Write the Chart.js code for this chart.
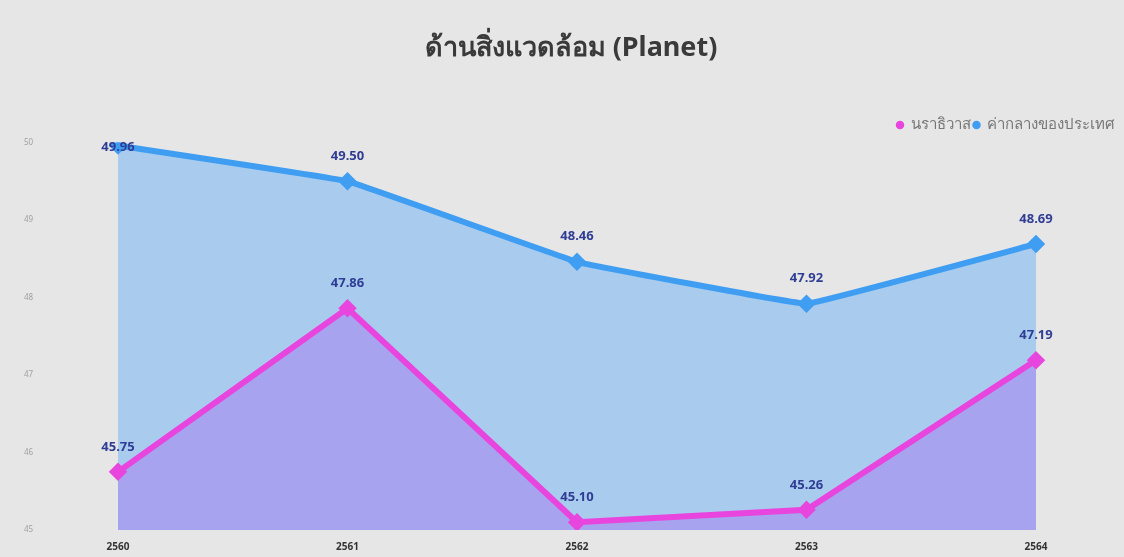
<!DOCTYPE html>
<html lang="th">
  <head>
    <meta charset="UTF-8" />
    <title>ด้านสิ่งแวดล้อม (Planet)</title>
    <style>
      html, body { margin: 0; padding: 0; background: #e6e6e6; }
    </style>
  </head>
  <body>
    <canvas id="myChart" width="1124" height="557"></canvas>

    <script src="https://cdn.jsdelivr.net/npm/chart.js"></script>
    <script>
      const years = ["2560", "2561", "2562", "2563", "2564"];
      const narathiwat = [45.75, 47.86, 45.1, 45.26, 47.19];
      const national = [49.96, 49.5, 48.46, 47.92, 48.69];
      const yTicks = [45, 46, 47, 48, 49, 50];

      const fontFamily = "'Noto Sans', 'Open Sans', sans-serif";

      // writes the value above every point, kept inside the plot area
      const valueLabels = {
        id: "valueLabels",
        afterDatasetsDraw(chart) {
          const ctx = chart.ctx;
          const top = chart.chartArea.top;
          ctx.save();
          ctx.font = "bold 13px " + fontFamily;
          ctx.fillStyle = "#2f3d94";
          ctx.textAlign = "center";
          ctx.textBaseline = "middle";
          chart.data.datasets.forEach((ds, i) => {
            chart.getDatasetMeta(i).data.forEach((pt, j) => {
              const y = Math.max(pt.y - 25, top + 5);
              ctx.fillText(ds.data[j].toFixed(2), pt.x, y);
            });
          });
          ctx.restore();
        },
      };

      const config = {
        type: "line",
        data: {
          labels: years,
          datasets: [
            {
              label: "นราธิวาส",
              data: narathiwat,
              borderColor: "#e845de",
              backgroundColor: "#a7a3ef",
              pointBackgroundColor: "#e845de",
              pointBorderColor: "#e845de",
              pointStyle: "rectRot",
              pointRadius: 5,
              borderWidth: 6,
              tension: 0,
              fill: "start",
            },
            {
              label: "ค่ากลางของประเทศ",
              data: national,
              borderColor: "#3f9ef2",
              backgroundColor: "#a9cbee",
              pointBackgroundColor: "#3f9ef2",
              pointBorderColor: "#3f9ef2",
              pointStyle: "rectRot",
              pointRadius: 5,
              borderWidth: 6,
              tension: 0.05,
              fill: "start",
            },
          ],
        },
        options: {
          responsive: false,
          animation: false,
          layout: {
            padding: { left: 24, right: 6, top: 0, bottom: 4 },
          },
          plugins: {
            title: {
              display: true,
              text: "ด้านสิ่งแวดล้อม (Planet)",
              color: "#3a3a3a",
              font: { family: fontFamily, size: 27, weight: "bold" },
              padding: { top: 32, bottom: 50 },
            },
            legend: {
              position: "top",
              align: "end",
              labels: {
                usePointStyle: true,
                pointStyle: "circle",
                boxWidth: 6,
                boxHeight: 6,
                padding: 3,
                color: "#777777",
                font: { family: fontFamily, size: 15 },
                generateLabels(chart) {
                  return chart.data.datasets.map((ds, i) => ({
                    text: ds.label,
                    fillStyle: ds.borderColor,
                    strokeStyle: ds.borderColor,
                    fontColor: "#777777",
                    lineWidth: 0,
                    pointStyle: "circle",
                    datasetIndex: i,
                  }));
                },
              },
            },
            tooltip: { enabled: false },
          },
          scales: {
            x: {
              offset: false,
              grid: { display: false, drawTicks: false },
              border: { display: false },
              afterFit(scale) {
                scale.height = 23;
              },
              ticks: {
                color: "#333333",
                padding: 11,
                font: { family: fontFamily, size: 10, weight: "bold" },
              },
            },
            y: {
              min: yTicks[0],
              max: yTicks[yTicks.length - 1],
              afterBuildTicks(scale) {
                scale.ticks = yTicks.map((v) => ({ value: v }));
              },
              afterFit(scale) {
                scale.width = 94;
              },
              grid: { display: false, drawTicks: false },
              border: { display: false },
              ticks: {
                crossAlign: "far",
                color: "#a0a0a0",
                font: { family: fontFamily, size: 8 },
              },
            },
            // empty right-hand axis that only keeps space after 2564
            yRight: {
              position: "right",
              afterFit(scale) {
                scale.width = 82;
              },
              grid: { display: false, drawTicks: false },
              border: { display: false },
              ticks: { display: false },
            },
          },
        },
        plugins: [valueLabels],
      };

      const myChart = new Chart(document.getElementById("myChart"), config);
    </script>
  </body>
</html>
